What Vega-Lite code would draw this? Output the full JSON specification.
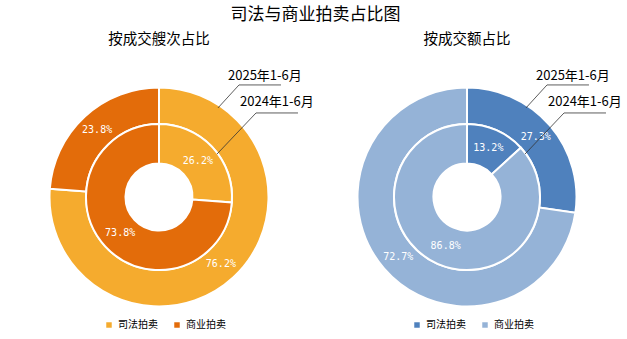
{
  "$schema": "https://vega.github.io/schema/vega-lite/v6.json",
  "background": "white",
  "padding": {"left": 9, "right": 2, "top": 5, "bottom": 0},
  "title": {"text": "司法与商业拍卖占比图", "fontSize": 17, "font": "Noto Sans CJK SC", "fontWeight": "normal", "color": "#000000", "anchor": "middle", "offset": 8},
  "datasets": {
    "shares": [
      {"chart": "按成交艘次占比", "period": "2025年1-6月", "type": "司法拍卖", "order": 1, "value": 76.2, "label": "76.2%"},
      {"chart": "按成交艘次占比", "period": "2025年1-6月", "type": "商业拍卖", "order": 2, "value": 23.8, "label": "23.8%"},
      {"chart": "按成交艘次占比", "period": "2024年1-6月", "type": "司法拍卖", "order": 1, "value": 26.2, "label": "26.2%"},
      {"chart": "按成交艘次占比", "period": "2024年1-6月", "type": "商业拍卖", "order": 2, "value": 73.8, "label": "73.8%"},
      {"chart": "按成交额占比", "period": "2025年1-6月", "type": "司法拍卖", "order": 1, "value": 27.3, "label": "27.3%"},
      {"chart": "按成交额占比", "period": "2025年1-6月", "type": "商业拍卖", "order": 2, "value": 72.7, "label": "72.7%"},
      {"chart": "按成交额占比", "period": "2024年1-6月", "type": "司法拍卖", "order": 1, "value": 13.2, "label": "13.2%"},
      {"chart": "按成交额占比", "period": "2024年1-6月", "type": "商业拍卖", "order": 2, "value": 86.8, "label": "86.8%"}
    ],
    "leaders": [
      {"period": "2025年1-6月", "step": 1, "x": 54.1, "y": 81.7},
      {"period": "2025年1-6月", "step": 2, "x": 73.4, "y": 102.8},
      {"period": "2025年1-6月", "step": 3, "x": 111.9, "y": 102.8},
      {"period": "2024年1-6月", "step": 1, "x": 53.2, "y": 39.4},
      {"period": "2024年1-6月", "step": 2, "x": 89.0, "y": 77.1},
      {"period": "2024年1-6月", "step": 3, "x": 127.5, "y": 77.1}
    ],
    "callouts": [
      {"period": "2025年1-6月", "x": 63.3, "y": 111.0},
      {"period": "2024年1-6月", "x": 74.3, "y": 86.7}
    ]
  },
  "bounds": "flush",
  "spacing": 8,
  "hconcat": [
    {
      "width": 300,
      "height": 287,
      "title": {"text": "按成交艘次占比", "fontSize": 14.5, "font": "Noto Sans CJK SC", "fontWeight": "normal", "color": "#000000", "offset": 5},
      "layer": [
        {
          "data": {"name": "shares"},
          "transform": [{"filter": "datum.chart === '按成交艘次占比' && datum.period === '2025年1-6月'"}],
          "mark": {"type": "arc", "radius": 109.5, "radius2": 73, "stroke": "white", "strokeWidth": 2},
          "encoding": {
            "x": {"datum": 0, "type": "quantitative", "scale": {"domain": [-137.6, 137.6], "nice": false, "zero": false}, "axis": null},
            "y": {"datum": 0, "type": "quantitative", "scale": {"domain": [-130.28, 133.03], "nice": false, "zero": false}, "axis": null},
            "theta": {"field": "value", "type": "quantitative", "stack": true},
            "order": {"field": "order", "type": "quantitative"},
            "color": {"field": "type", "type": "nominal", "scale": {"domain": ["司法拍卖", "商业拍卖"], "range": ["#F5AB2E", "#E36C0A"]}, "legend": {"title": null}}
          }
        },
        {
          "data": {"name": "shares"},
          "transform": [{"filter": "datum.chart === '按成交艘次占比' && datum.period === '2024年1-6月'"}],
          "mark": {"type": "arc", "radius": 73, "radius2": 33.5, "stroke": "white", "strokeWidth": 2},
          "encoding": {
            "x": {"datum": 0, "type": "quantitative", "scale": {"domain": [-137.6, 137.6], "nice": false, "zero": false}, "axis": null},
            "y": {"datum": 0, "type": "quantitative", "scale": {"domain": [-130.28, 133.03], "nice": false, "zero": false}, "axis": null},
            "theta": {"field": "value", "type": "quantitative", "stack": true},
            "order": {"field": "order", "type": "quantitative"},
            "color": {"field": "type", "type": "nominal", "scale": {"domain": ["司法拍卖", "商业拍卖"], "range": ["#F5AB2E", "#E36C0A"]}, "legend": {"title": null}}
          }
        },
        {
          "data": {"name": "shares"},
          "transform": [{"filter": "datum.chart === '按成交艘次占比' && datum.period === '2025年1-6月'"}],
          "mark": {"type": "text", "radius": 91, "fill": "white", "font": "DejaVu Sans Mono", "fontSize": 10},
          "encoding": {
            "x": {"datum": 0, "type": "quantitative", "scale": {"domain": [-137.6, 137.6], "nice": false, "zero": false}, "axis": null},
            "y": {"datum": 0, "type": "quantitative", "scale": {"domain": [-130.28, 133.03], "nice": false, "zero": false}, "axis": null},
            "theta": {"field": "value", "type": "quantitative", "stack": true},
            "order": {"field": "order", "type": "quantitative"},
            "detail": {"field": "type", "type": "nominal"},
            "text": {"field": "label", "type": "nominal"}
          }
        },
        {
          "data": {"name": "shares"},
          "transform": [{"filter": "datum.chart === '按成交艘次占比' && datum.period === '2024年1-6月'"}],
          "mark": {"type": "text", "radius": 53, "fill": "white", "font": "DejaVu Sans Mono", "fontSize": 10},
          "encoding": {
            "x": {"datum": 0, "type": "quantitative", "scale": {"domain": [-137.6, 137.6], "nice": false, "zero": false}, "axis": null},
            "y": {"datum": 0, "type": "quantitative", "scale": {"domain": [-130.28, 133.03], "nice": false, "zero": false}, "axis": null},
            "theta": {"field": "value", "type": "quantitative", "stack": true},
            "order": {"field": "order", "type": "quantitative"},
            "detail": {"field": "type", "type": "nominal"},
            "text": {"field": "label", "type": "nominal"}
          }
        },
        {
          "data": {"name": "leaders"},
          "mark": {"type": "line", "color": "#333333", "strokeWidth": 0.8},
          "encoding": {
            "x": {"field": "x", "type": "quantitative", "scale": {"domain": [-137.6, 137.6], "nice": false, "zero": false}, "axis": null},
            "y": {"field": "y", "type": "quantitative", "scale": {"domain": [-130.28, 133.03], "nice": false, "zero": false}, "axis": null},
            "detail": {"field": "period", "type": "nominal"},
            "order": {"field": "step", "type": "quantitative"}
          }
        },
        {
          "data": {"name": "callouts"},
          "mark": {"type": "text", "align": "left", "baseline": "middle", "font": "Noto Sans CJK SC", "fontSize": 13, "color": "#000000"},
          "encoding": {
            "x": {"field": "x", "type": "quantitative", "scale": {"domain": [-137.6, 137.6], "nice": false, "zero": false}, "axis": null},
            "y": {"field": "y", "type": "quantitative", "scale": {"domain": [-130.28, 133.03], "nice": false, "zero": false}, "axis": null},
            "text": {"field": "period", "type": "nominal"}
          }
        }
      ]
    },
    {
      "width": 300,
      "height": 287,
      "title": {"text": "按成交额占比", "fontSize": 14.5, "font": "Noto Sans CJK SC", "fontWeight": "normal", "color": "#000000", "offset": 5},
      "layer": [
        {
          "data": {"name": "shares"},
          "transform": [{"filter": "datum.chart === '按成交额占比' && datum.period === '2025年1-6月'"}],
          "mark": {"type": "arc", "radius": 109.5, "radius2": 73, "stroke": "white", "strokeWidth": 2},
          "encoding": {
            "x": {"datum": 0, "type": "quantitative", "scale": {"domain": [-137.6, 137.6], "nice": false, "zero": false}, "axis": null},
            "y": {"datum": 0, "type": "quantitative", "scale": {"domain": [-130.28, 133.03], "nice": false, "zero": false}, "axis": null},
            "theta": {"field": "value", "type": "quantitative", "stack": true},
            "order": {"field": "order", "type": "quantitative"},
            "color": {"field": "type", "type": "nominal", "scale": {"domain": ["司法拍卖", "商业拍卖"], "range": ["#4F81BD", "#95B3D7"]}, "legend": {"title": null}}
          }
        },
        {
          "data": {"name": "shares"},
          "transform": [{"filter": "datum.chart === '按成交额占比' && datum.period === '2024年1-6月'"}],
          "mark": {"type": "arc", "radius": 73, "radius2": 33.5, "stroke": "white", "strokeWidth": 2},
          "encoding": {
            "x": {"datum": 0, "type": "quantitative", "scale": {"domain": [-137.6, 137.6], "nice": false, "zero": false}, "axis": null},
            "y": {"datum": 0, "type": "quantitative", "scale": {"domain": [-130.28, 133.03], "nice": false, "zero": false}, "axis": null},
            "theta": {"field": "value", "type": "quantitative", "stack": true},
            "order": {"field": "order", "type": "quantitative"},
            "color": {"field": "type", "type": "nominal", "scale": {"domain": ["司法拍卖", "商业拍卖"], "range": ["#4F81BD", "#95B3D7"]}, "legend": {"title": null}}
          }
        },
        {
          "data": {"name": "shares"},
          "transform": [{"filter": "datum.chart === '按成交额占比' && datum.period === '2025年1-6月'"}],
          "mark": {"type": "text", "radius": 91, "fill": "white", "font": "DejaVu Sans Mono", "fontSize": 10},
          "encoding": {
            "x": {"datum": 0, "type": "quantitative", "scale": {"domain": [-137.6, 137.6], "nice": false, "zero": false}, "axis": null},
            "y": {"datum": 0, "type": "quantitative", "scale": {"domain": [-130.28, 133.03], "nice": false, "zero": false}, "axis": null},
            "theta": {"field": "value", "type": "quantitative", "stack": true},
            "order": {"field": "order", "type": "quantitative"},
            "detail": {"field": "type", "type": "nominal"},
            "text": {"field": "label", "type": "nominal"}
          }
        },
        {
          "data": {"name": "shares"},
          "transform": [{"filter": "datum.chart === '按成交额占比' && datum.period === '2024年1-6月'"}],
          "mark": {"type": "text", "radius": 53, "fill": "white", "font": "DejaVu Sans Mono", "fontSize": 10},
          "encoding": {
            "x": {"datum": 0, "type": "quantitative", "scale": {"domain": [-137.6, 137.6], "nice": false, "zero": false}, "axis": null},
            "y": {"datum": 0, "type": "quantitative", "scale": {"domain": [-130.28, 133.03], "nice": false, "zero": false}, "axis": null},
            "theta": {"field": "value", "type": "quantitative", "stack": true},
            "order": {"field": "order", "type": "quantitative"},
            "detail": {"field": "type", "type": "nominal"},
            "text": {"field": "label", "type": "nominal"}
          }
        },
        {
          "data": {"name": "leaders"},
          "mark": {"type": "line", "color": "#333333", "strokeWidth": 0.8},
          "encoding": {
            "x": {"field": "x", "type": "quantitative", "scale": {"domain": [-137.6, 137.6], "nice": false, "zero": false}, "axis": null},
            "y": {"field": "y", "type": "quantitative", "scale": {"domain": [-130.28, 133.03], "nice": false, "zero": false}, "axis": null},
            "detail": {"field": "period", "type": "nominal"},
            "order": {"field": "step", "type": "quantitative"}
          }
        },
        {
          "data": {"name": "callouts"},
          "mark": {"type": "text", "align": "left", "baseline": "middle", "font": "Noto Sans CJK SC", "fontSize": 13, "color": "#000000"},
          "encoding": {
            "x": {"field": "x", "type": "quantitative", "scale": {"domain": [-137.6, 137.6], "nice": false, "zero": false}, "axis": null},
            "y": {"field": "y", "type": "quantitative", "scale": {"domain": [-130.28, 133.03], "nice": false, "zero": false}, "axis": null},
            "text": {"field": "period", "type": "nominal"}
          }
        }
      ]
    }
  ],
  "resolve": {"scale": {"color": "independent"}, "legend": {"color": "independent"}},
  "config": {
    "view": {"stroke": null},
    "legend": {
      "orient": "none",
      "legendX": 95,
      "legendY": 268,
      "direction": "horizontal",
      "symbolType": "square",
      "symbolSize": 30,
      "symbolStrokeWidth": 0,
      "labelFont": "Noto Sans CJK SC",
      "labelFontSize": 10,
      "labelColor": "#000000",
      "labelOffset": 4,
      "columnPadding": 14,
      "padding": 0
    }
  }
}
